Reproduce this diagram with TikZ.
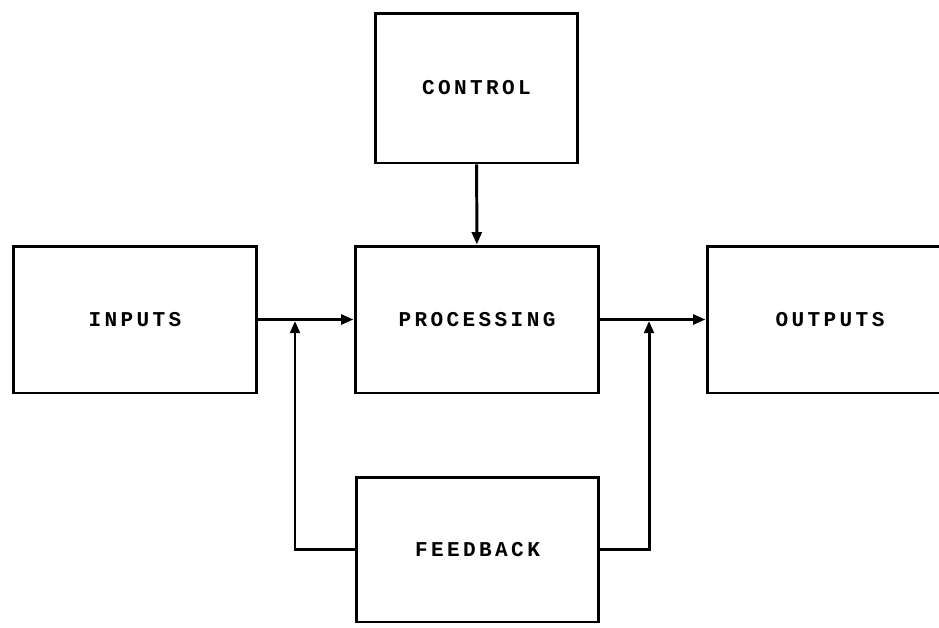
\documentclass[tikz,border=0pt]{standalone}
\usepackage{fontspec}
\usepackage{tikz}
\usetikzlibrary{arrows.meta,positioning}
\newfontfamily\boxfont[LetterSpace=16]{Liberation Mono}

\begin{document}
\begin{tikzpicture}[x=0.02cm,y=-0.02cm,
  box/.style={draw,line width=1.7pt,inner sep=3pt,font=\boxfont\bfseries\fontsize{12pt}{14pt}\selectfont,align=center},
  wire/.style={line width=1.7pt},
  arr/.style={wire,-{Triangle[length=7pt,width=5.5pt]}}]
\useasboundingbox (0,0) rectangle (939,627);

% --- blocks -----------------------------------------------------------
\node[box,minimum width=4.06cm,minimum height=3cm] (control) at (476.5,88) {CONTROL};
\node[box,minimum width=4.88cm,minimum height=2.94cm] (inputs) at (135,319.5) {INPUTS};
\node[box,minimum width=4.88cm,minimum height=2.94cm] (proc) at (477,319.5) {PROCESSING};
\node[box,minimum width=4.92cm,minimum height=2.94cm] (outputs) at (830,319.5) {OUTPUTS};
\node[box,minimum width=4.86cm,minimum height=2.9cm] (feedback) at (477.5,549.5) {FEEDBACK};

% --- junctions on the main line ---------------------------------------
\coordinate (jin) at (295,319.5);
\coordinate (jout) at (649,319.5);

% --- forward path -----------------------------------------------------
\draw[arr] (control) -- (proc);
\draw[arr] (inputs.east) -- (proc.west);
\draw[arr] (proc.east) -- (outputs.west);

% --- feedback loops ---------------------------------------------------
\draw[arr,shorten >=0.8pt] (feedback.west) -| (jin);
\draw[arr,shorten >=0.8pt] (feedback.east) -| (jout);
\end{tikzpicture}
\end{document}
